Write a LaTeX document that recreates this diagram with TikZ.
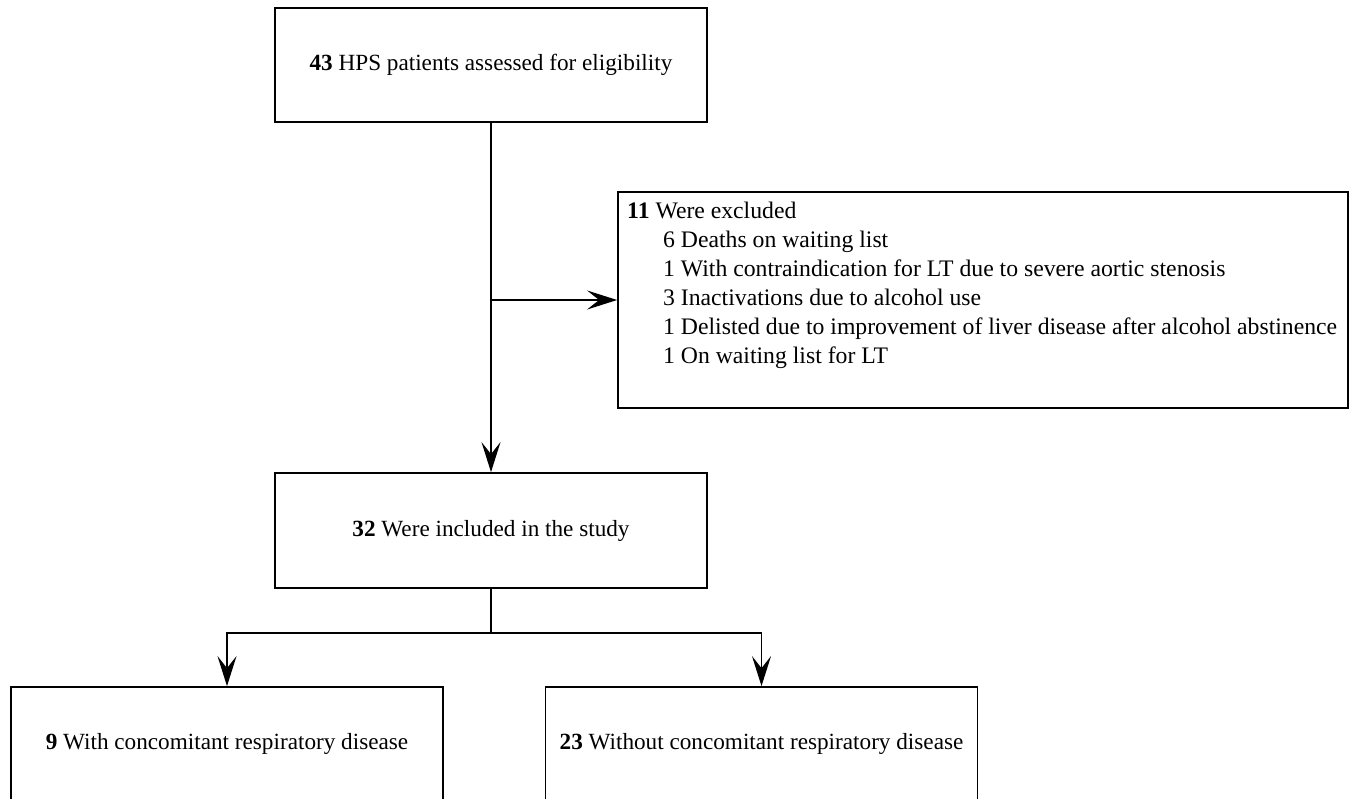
\documentclass[tikz,border=0pt]{standalone}
\usepackage{fontspec}
\setmainfont{Liberation Serif}
\usetikzlibrary{arrows.meta,calc}
\tikzset{
  box/.style={draw=black, line width=1.8pt, minimum width=432pt, minimum height=114pt, inner sep=0pt, font=\fontsize{23.2}{29}\selectfont},
  conn/.style={draw=black, line width=1.8pt},
  arr/.style={conn, -{Stealth[length=30pt, width=19pt, inset=12pt]}},
  listtext/.style={anchor=north west, align=left, inner sep=0pt, font=\fontsize{23.7}{29}\selectfont}
}
\begin{document}
\begin{tikzpicture}[x=1pt, y=-1pt]
\useasboundingbox (0,0) rectangle (1351,798);
\fill[white] (0,0) rectangle (1351,798);
\node[box] (top) at (491,65) {\textbf{43} HPS patients assessed for eligibility};
\node[box, minimum height=115pt] (mid) at (491,530.5) {\textbf{32} Were included in the study};
\node[box, minimum width=730pt, minimum height=216pt] (excl) at (983,300) {};
\node[listtext] (exclist) at (627,202) {\textbf{11} Were excluded\\
\hspace*{36pt}6 Deaths on waiting list\\
\hspace*{36pt}1 With contraindication for LT due to severe aortic stenosis\\
\hspace*{36pt}3 Inactivations due to alcohol use\\
\hspace*{36pt}1 Delisted due to improvement of liver disease after alcohol abstinence\\
\hspace*{36pt}1 On waiting list for LT};
\node[box] (left) at (227,744) {\textbf{9} With concomitant respiratory disease};
\node[box] (right) at (761.5,744) {\textbf{23} Without concomitant respiratory disease};
\coordinate (split) at (491,300);
\coordinate (fork) at (491,633);
\draw[arr] (top.south) -- (mid.north);
\draw[arr] (split) -- (excl.west);
\draw[conn] (mid.south) -- (fork);
\draw[arr] (fork) -| (left.north);
\draw[arr] (fork) -| (right.north);
\end{tikzpicture}
\end{document}
